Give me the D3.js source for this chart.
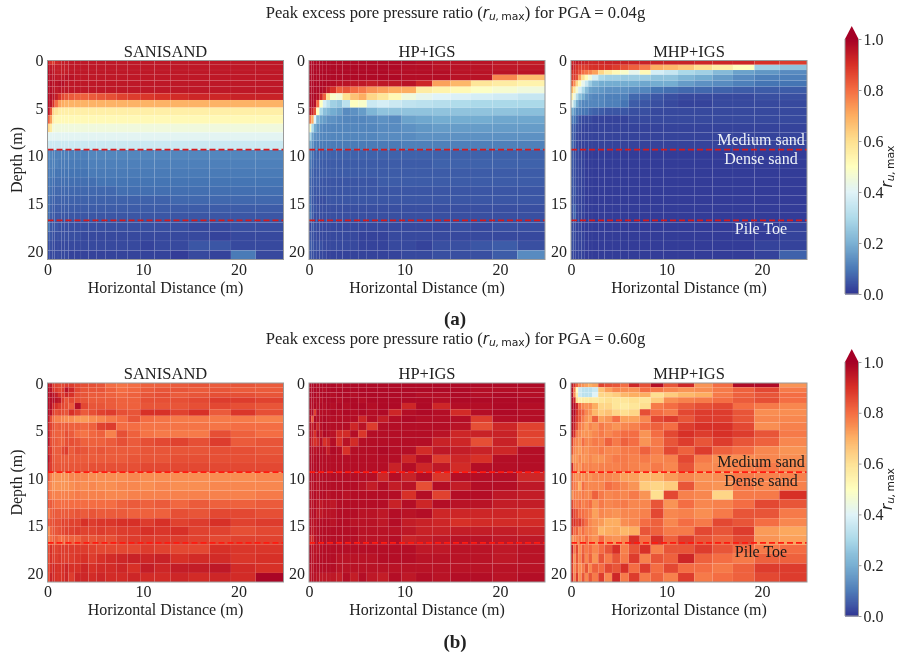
<!DOCTYPE html>
<html>
<head>
<meta charset="utf-8">
<script src="https://d3js.org/d3.v7.min.js"></script>
<style>
body { margin: 0; background: #fff; }
svg { filter: blur(.45px); }
text { font-family: "Liberation Serif", serif; fill: #222; }
</style>
</head>
<body>
<script>
// cell edges of the mesh, metres
var xEdges = [0,.25,.5,.75,1.1,1.45,1.8,2.2,2.85,3.5,4.3,5.15,6.05,7.2,8.35,9.7,11.2,12.9,14.8,16.95,19.2,21.8,24.7];
var depthEdges = [0,.45,1,1.5,2.1,2.75,3.45,4.15,4.95,5.75,6.65,7.55,8.4,9.4,10.35,11.3,12.25,13.2,14.2,15.1,16,17,17.95,18.95,19.95,20.9];

var modelNames = ['SANISAND','HP+IGS','MHP+IGS'];
var xTicks = [0,10,20];
var depthTicks = [0,5,10,15,20];
var barTicks = [0,.2,.4,.6,.8,1];
var layerDepths = [9.35,16.8];

// r_u,max x 100, one row per depth
var sanisand004 = [
[94,90,88,92,93,94,94,95,95,95,95,95,95,95,95,95,95,95,95,95,95,95],
[96,95,94,94,94,94,94,95,95,95,95,95,95,95,95,95,95,95,95,95,95,95],
[97,96,95,94,94,94,94,95,95,95,95,95,95,95,95,95,95,95,95,95,95,95],
[97,96,96,95,95,95,96,96,95,95,95,95,95,95,95,95,95,95,95,95,95,95],
[97,97,96,96,97,97,95,95,95,95,95,95,95,95,95,95,95,95,95,95,95,95],
[97,97,96,95,96,95,95,95,95,95,95,95,95,95,95,95,95,95,95,95,95,95],
[97,97,96,94,90,86,84,83,82,82,83,84,85,87,88,89,90,91,92,92,93,93],
[97,96,90,80,72,70,69,69,69,69,69,69,69,69,69,69,69,69,69,69,69,69],
[96,84,62,58,55,55,55,55,55,55,55,55,55,55,55,55,55,55,55,55,55,55],
[82,72,55,52,52,52,52,52,52,52,52,52,52,52,52,52,52,52,52,52,52,52],
[62,56,46,45,45,45,45,45,45,45,45,45,45,45,45,45,45,45,45,45,45,45],
[41,41,41,41,41,41,41,41,41,41,41,41,41,41,41,41,41,41,41,41,41,41],
[36,36,36,36,36,36,36,36,36,36,36,36,36,36,36,36,36,36,36,36,36,36],
[13,13,12,12,12,12,12,12,12,12,13,13,13,13,13,13,13,13,13,13,13,13],
[12,12,12,12,11,11,11,11,11,11,12,12,12,12,12,12,12,12,12,12,12,12],
[11,11,11,10,10,10,10,10,10,10,11,11,11,11,11,11,11,11,11,11,11,11],
[10,10,9,9,9,9,9,9,9,9,9,10,10,10,10,10,10,10,10,10,10,10],
[9,9,8,8,8,8,8,8,8,8,8,8,8,9,9,9,9,9,9,9,9,9],
[9,8,7,7,7,7,7,7,7,7,7,7,7,7,7,7,7,8,8,8,8,8],
[9,7,6,6,6,6,6,6,6,6,6,6,6,6,6,6,6,6,6,6,6,6],
[9,6,6,5,5,5,5,5,5,5,5,5,5,5,5,5,5,5,5,5,5,5],
[10,5,5,5,4,4,4,4,4,4,4,4,4,4,4,4,4,4,3,3,4,4],
[6,5,4,4,4,4,4,4,4,3,3,3,3,3,3,3,3,3,3,2,3,3],
[4,4,3,3,3,3,3,3,3,3,3,3,3,3,3,2,3,3,5,5,3,3],
[4,3,3,3,3,3,3,2,2,2,2,2,2,2,2,2,2,1,3,2,11,3]
];
var hpigs004 = [
[98,98,98,98,98,98,98,98,98,98,98,98,98,98,98,98,97,96,96,96,95,94],
[98,98,98,98,98,98,98,98,98,98,98,98,98,98,98,97,97,96,96,96,95,95],
[98,98,98,98,98,98,98,98,98,98,98,98,98,98,97,97,97,97,96,96,96,96],
[98,98,98,98,98,98,98,98,98,98,98,98,98,98,98,97,97,97,96,96,76,67],
[98,98,98,98,98,98,98,97,96,96,95,95,94,95,95,96,92,72,68,58,56,54],
[98,98,98,98,98,97,94,90,82,84,80,78,74,72,70,70,56,54,52,49,47,45],
[98,98,98,97,92,82,60,48,46,60,66,70,62,58,52,45,42,40,39,38,37,35],
[98,98,97,80,50,38,33,28,26,33,50,48,36,38,36,34,33,32,31,30,30,30],
[96,93,85,50,30,24,22,20,18,14,15,17,22,25,25,25,25,25,25,25,25,24],
[78,70,40,22,18,17,15,15,14,13,13,13,14,15,14,18,19,20,20,20,19,19],
[48,30,20,16,14,13,13,13,13,13,13,13,13,14,14,15,16,17,17,17,17,17],
[30,18,15,14,13,13,13,13,13,13,13,13,13,14,14,14,15,15,15,15,15,15],
[20,15,12,11,11,11,11,11,11,11,11,11,11,11,11,12,12,12,12,12,12,12],
[13,9,8,7,7,7,7,7,7,7,7,7,7,7,7,7,7,7,7,7,7,7],
[11,8,7,7,6,6,6,6,6,6,6,6,6,6,6,6,6,7,7,7,7,7],
[9,7,6,6,6,6,6,6,6,6,6,6,6,6,6,6,6,6,6,6,6,6],
[8,6,6,6,5,5,5,5,5,5,5,5,5,6,6,6,6,6,6,6,6,6],
[8,6,5,5,5,5,5,5,5,5,5,5,5,5,5,5,5,5,5,5,5,5],
[9,5,5,4,4,4,5,5,5,5,5,5,5,5,5,5,5,5,5,5,5,5],
[10,5,5,4,4,4,4,4,4,4,4,4,4,4,4,4,4,4,4,4,4,4],
[11,6,4,4,4,4,4,4,4,4,4,4,4,4,4,4,4,4,4,4,4,4],
[2,5,4,3,3,3,3,3,3,3,3,3,3,3,3,3,3,3,4,3,4,4],
[5,4,4,3,3,3,3,3,3,3,3,2,2,2,3,3,3,3,3,3,3,3],
[6,5,4,4,4,3,3,3,3,3,3,2,2,2,3,3,2,4,4,5,6,4],
[5,4,4,3,3,3,2,2,2,2,2,2,2,2,2,3,3,4,4,4,6,14]
];
var mhpigs004 = [
[92,94,95,94,93,93,92,92,92,93,93,93,93,93,93,93,93,92,92,92,90,88],
[95,92,90,88,88,88,90,90,90,90,88,85,82,78,70,68,65,60,55,50,28,25],
[90,90,88,85,80,78,76,72,62,56,52,48,42,52,38,35,30,28,23,18,16,14],
[88,88,85,72,60,52,45,38,30,28,28,27,27,27,25,25,22,20,17,14,12,12],
[82,75,62,52,42,35,27,22,20,20,20,20,20,19,20,20,17,15,14,12,10,10],
[68,58,46,38,30,23,18,17,16,15,15,15,14,13,10,9,8,8,7,6,6,6],
[55,44,32,24,20,16,14,13,13,12,12,12,8,7,5,4,3,3,3,3,4,4],
[42,30,20,15,13,13,13,13,13,12,12,10,6,5,4,3,2,2,3,3,3,3],
[20,16,12,11,10,10,8,7,6,5,5,5,4,4,3,3,3,3,3,3,3,3],
[12,10,7,4,3,3,3,2,2,2,2,2,3,3,3,3,3,3,3,3,3,3],
[7,6,4,3,2,2,2,2,2,2,2,2,2,2,2,2,2,2,2,2,2,2],
[7,5,3,2,2,2,2,2,2,2,2,2,2,2,2,2,2,2,2,2,2,2],
[9,5,3,2,2,2,2,2,2,2,2,2,2,2,2,2,2,2,2,2,2,2],
[6,4,3,2,2,1,1,1,1,1,1,1,1,1,1,1,1,1,1,1,1,1],
[6,4,3,2,2,1,1,1,1,1,1,1,1,1,1,1,1,1,1,1,1,1],
[5,4,3,2,2,1,1,1,1,1,1,1,1,1,1,1,1,1,1,1,1,1],
[6,4,3,2,2,1,1,1,1,1,1,1,1,1,1,1,1,1,1,1,1,1],
[5,5,3,2,2,1,1,1,1,1,1,1,1,1,1,1,1,1,1,1,1,1],
[5,4,3,2,2,1,1,1,1,1,1,1,1,1,1,1,1,1,1,1,1,1],
[5,7,3,2,2,1,1,1,1,1,1,1,1,1,1,1,1,1,1,1,1,1],
[4,8,3,2,2,1,1,1,1,1,1,1,1,1,1,1,1,1,1,1,1,1],
[3,3,2,2,1,1,1,1,1,1,1,1,1,1,1,1,1,1,1,1,1,2],
[4,3,2,2,2,1,1,1,1,1,1,1,1,1,1,1,1,1,1,1,1,2],
[4,3,2,2,2,1,1,1,1,1,1,1,1,1,1,1,1,1,1,1,2,2],
[3,2,2,2,2,1,1,1,1,1,1,1,1,1,1,1,1,1,1,1,2,7]
];
var sanisand060 = [
[95,95,88,87,86,86,88,88,86,85,85,84,80,79,80,82,82,83,84,83,84,83],
[97,96,90,88,86,88,96,92,86,84,84,84,82,80,81,83,84,84,83,84,83,83],
[97,97,96,94,90,88,92,90,85,84,83,83,82,81,82,84,85,83,84,85,85,84],
[97,97,97,96,95,88,84,86,85,84,83,83,83,82,82,85,85,85,86,88,88,87],
[97,97,92,90,88,86,85,83,97,86,84,84,83,82,82,84,84,84,85,86,85,84],
[97,96,88,85,86,85,84,90,87,83,85,87,88,85,84,90,90,87,90,83,89,85],
[95,85,80,77,77,76,75,75,73,73,75,76,78,80,84,80,79,78,78,78,78,77],
[93,87,85,82,83,82,83,82,82,81,82,87,88,80,80,79,79,79,79,79,80,80],
[95,85,83,82,82,82,85,83,80,79,81,82,77,85,82,79,78,78,78,85,82,80],
[96,85,84,83,82,82,85,85,84,82,82,82,83,85,83,85,86,87,85,88,83,84],
[92,88,83,83,83,86,88,83,85,84,83,84,83,83,83,84,84,84,84,85,85,84],
[96,88,84,83,83,83,83,83,83,83,83,83,83,83,84,84,84,85,85,85,85,85],
[94,88,85,84,84,84,84,84,84,84,85,85,85,85,85,86,86,86,86,86,86,86],
[85,77,75,74,74,74,74,76,76,76,75,75,75,75,76,75,75,75,75,75,75,76],
[80,76,74,74,74,74,74,75,76,75,76,75,75,76,76,75,76,75,75,76,76,76],
[82,78,77,77,77,77,77,77,78,77,77,77,76,76,77,77,77,77,77,77,77,78],
[84,83,82,80,80,80,80,80,80,80,80,80,80,82,83,82,83,81,83,82,82,83],
[78,82,84,83,83,83,83,83,84,83,84,83,83,83,82,82,82,85,84,86,86,85],
[84,84,85,85,85,87,86,87,87,90,88,89,89,90,90,88,90,87,88,90,87,88],
[75,82,84,84,85,86,87,87,88,87,87,88,87,88,88,90,89,90,87,87,85,86],
[77,80,82,82,80,80,82,82,82,85,84,85,85,87,88,88,88,88,87,86,87,87],
[85,90,87,87,88,88,88,88,88,88,87,86,86,86,86,88,87,86,86,90,89,89],
[85,90,88,88,89,88,88,88,89,90,88,90,91,92,93,92,93,90,91,91,89,90],
[86,90,92,90,90,90,92,90,90,92,90,91,91,92,90,94,92,94,94,95,91,90],
[85,93,91,90,90,90,92,88,92,92,91,92,91,91,92,91,91,92,91,92,91,99]
];
var hpigs060 = [
[98,98,98,97,98,98,98,98,97,98,98,98,98,98,98,98,98,98,98,98,98,98],
[98,98,98,98,98,97,98,98,98,98,98,98,98,98,98,98,98,98,98,97,97,97],
[98,98,98,97,98,98,98,97,98,98,97,98,98,98,98,98,97,97,98,97,98,97],
[98,98,97,98,97,98,98,98,97,98,98,97,98,98,98,98,98,97,98,98,98,98],
[98,97,98,97,98,97,98,97,98,97,98,98,97,98,98,92,98,92,97,97,98,97],
[98,98,87,98,97,97,97,98,97,98,97,98,97,98,92,97,98,97,91,97,98,97],
[97,84,98,97,97,98,97,97,97,97,97,92,97,94,97,98,97,97,97,88,97,97],
[97,94,97,93,97,98,97,97,97,97,92,96,88,97,97,97,97,97,96,85,92,87],
[96,95,90,97,95,98,97,96,91,91,97,89,97,97,97,97,97,96,92,93,93,87],
[96,93,90,92,97,90,92,97,90,96,91,97,97,97,97,97,97,93,92,85,93,86],
[98,97,96,97,97,97,94,98,97,90,97,97,97,98,97,97,91,95,94,93,92,97],
[98,97,97,98,97,97,97,97,97,97,97,97,97,97,97,92,97,88,92,90,97,97],
[98,98,97,98,97,97,97,97,97,97,97,97,97,97,93,97,92,95,91,97,97,97],
[98,97,97,96,97,97,97,97,97,97,97,97,97,92,97,93,97,89,97,97,97,92],
[97,96,97,96,97,97,97,97,97,97,97,96,94,97,94,96,85,97,94,97,97,95],
[96,97,97,96,97,97,96,97,97,96,97,97,97,97,97,90,97,87,97,97,95,94],
[97,96,97,96,95,96,96,95,97,97,97,97,97,97,93,97,92,97,96,96,94,94],
[96,97,97,95,95,96,96,96,97,97,97,96,96,95,97,96,97,92,92,92,92,91],
[97,96,96,97,97,97,97,96,97,97,96,96,96,95,97,94,93,92,90,91,91,91],
[97,95,96,97,97,97,97,97,97,97,97,96,96,96,96,95,93,93,94,94,94,93],
[93,92,96,97,97,97,97,97,97,97,97,96,96,96,97,93,94,95,96,96,95,95],
[98,96,96,96,97,97,97,97,97,97,97,97,97,97,97,97,95,95,96,96,95,96],
[98,96,96,97,97,97,97,97,96,96,96,96,96,97,97,97,96,96,96,96,95,96],
[97,96,97,97,97,97,97,97,96,96,96,96,96,96,96,96,96,96,96,96,96,96],
[96,97,96,96,95,95,95,95,94,97,94,97,95,94,97,95,97,96,97,97,96,97]
];
var mhpigs060 = [
[95,90,82,76,74,72,70,72,87,85,84,80,92,85,97,84,92,74,80,98,98,74],
[97,78,50,36,33,33,33,36,66,72,76,75,74,80,78,76,74,75,78,82,86,78],
[98,75,55,36,33,33,33,40,62,62,64,68,70,70,60,64,68,70,78,82,84,80],
[98,92,60,55,56,56,57,56,58,60,58,58,60,58,64,75,77,78,80,83,85,80],
[99,97,92,80,76,74,75,70,62,62,58,56,58,60,78,80,83,85,86,80,78,76],
[99,98,90,84,82,76,74,68,64,66,62,60,62,85,80,78,86,88,88,84,75,75],
[98,95,88,84,78,74,72,82,72,74,80,72,72,76,86,88,84,88,88,84,76,76],
[97,93,85,78,76,72,76,74,78,76,74,76,77,80,82,80,88,90,90,86,75,77],
[96,90,78,76,74,74,74,76,78,76,78,80,80,74,80,86,90,88,90,88,84,78],
[88,78,76,74,80,76,76,78,77,82,78,82,80,74,78,84,88,84,88,84,82,76],
[84,76,74,73,76,74,76,76,78,76,76,78,78,82,78,86,82,88,82,80,76,74],
[76,74,73,76,74,74,76,74,74,76,78,78,77,78,76,77,86,78,75,75,76,75],
[92,76,76,74,78,76,77,76,77,77,77,78,77,76,78,76,84,76,76,77,78,76],
[82,76,74,76,74,76,74,76,76,76,75,72,72,68,69,73,76,74,75,78,77,77],
[80,78,76,70,80,76,76,76,76,80,78,76,74,64,62,64,84,75,74,78,76,77],
[74,78,76,76,78,76,76,82,78,76,77,76,78,74,60,86,77,76,62,78,78,90],
[86,80,78,80,77,78,80,74,78,76,77,78,76,76,84,74,80,76,77,80,86,84],
[92,86,84,80,80,78,77,72,76,75,74,76,76,77,86,76,77,75,78,84,84,78],
[90,90,86,88,84,80,76,74,73,70,70,75,76,80,82,76,80,78,86,84,80,76],
[88,80,82,76,80,76,76,74,68,70,71,68,70,84,82,78,78,86,84,88,73,71],
[74,76,76,78,76,80,76,74,80,75,74,76,90,80,90,82,88,84,82,86,74,72],
[94,78,86,75,82,78,80,76,80,84,90,77,84,90,77,84,84,88,84,80,78,80],
[90,74,84,76,84,76,82,74,84,78,84,78,88,77,84,82,92,82,80,78,82,82],
[88,75,82,75,78,84,76,82,80,86,84,90,80,88,80,86,80,80,78,82,88,88],
[92,76,88,75,84,76,84,78,88,76,92,78,88,78,82,77,88,78,80,82,86,88]
];

var svg = d3.select('body').append('svg')
    .attr('width',899)
    .attr('height',657);

// same thing as matplotlib's RdYlBu_r, linear between the 11 brewer stops
var colorScale = d3.scaleLinear()
    .domain(d3.range(11).map(function(i){ return i/10; }))
    .range(d3.schemeRdYlBu[11].slice().reverse());

var panelLefts = [47.5,309,571];
var panelWidth = 236;
var frameColor = '#9a9a9a';
var subDrop = .16;

function ruMaxLabel(sel,size){
    sel.append('tspan').attr('font-family','DejaVu Sans').attr('font-style','italic').attr('font-size',size).text('r');
    sel.append('tspan').attr('font-family','DejaVu Sans').attr('font-style','italic').attr('font-size',size*.72).attr('dy',size*subDrop).text('u,');
    sel.append('tspan').attr('font-family','DejaVu Sans').attr('font-size',size*.72).attr('dx',2).text('max');
}

function drawPanel(values,i,top,bottom,layerColor,noteColor){
    var left = panelLefts[i];
    var x = d3.scaleLinear().domain([0,24.7]).range([left,left+panelWidth]);
    var y = d3.scaleLinear().domain([0,20.9]).range([top,bottom]);
    var g = svg.append('g');

    values.forEach(function(row,r){
        g.selectAll(null)
            .data(row)
            .enter().append('rect')
            .attr('x',function(d,c){ return x(xEdges[c]); })
            .attr('y',y(depthEdges[r]))
            .attr('width',function(d,c){ return x(xEdges[c+1])-x(xEdges[c]); })
            .attr('height',y(depthEdges[r+1])-y(depthEdges[r]))
            .attr('fill',function(d){ return colorScale(d/100); })
            .attr('stroke','#fff')
            .attr('stroke-opacity',.05)
            .attr('stroke-width',.6);
    });

    layerDepths.forEach(function(d){
        g.append('line')
            .attr('x1',left).attr('x2',left+panelWidth)
            .attr('y1',y(d)).attr('y2',y(d))
            .attr('stroke',layerColor)
            .attr('stroke-width',1.7)
            .attr('stroke-dasharray','6,3');
    });

    g.append('rect')
        .attr('x',left).attr('y',top)
        .attr('width',panelWidth).attr('height',bottom-top)
        .attr('fill','none')
        .attr('stroke',frameColor)
        .attr('stroke-width',1);

    var xAxis = d3.axisBottom(x).tickValues(xTicks).tickSize(0).tickPadding(4).tickFormat(d3.format('d'));
    var yAxis = d3.axisLeft(y).tickValues(depthTicks).tickSize(0).tickPadding(4).tickFormat(d3.format('d'));
    var gx = g.append('g').attr('transform','translate(0,'+bottom+')').call(xAxis);
    var gy = g.append('g').attr('transform','translate('+left+',0)').call(yAxis);
    gx.select('.domain').remove();
    gy.select('.domain').remove();
    gx.selectAll('text').attr('font-size',16).attr('font-family','Liberation Serif');
    gy.selectAll('text').attr('font-size',16).attr('font-family','Liberation Serif');

    g.append('text')
        .attr('x',left+panelWidth/2).attr('y',top-4)
        .attr('text-anchor','middle').attr('font-size',16.5)
        .text(modelNames[i]);
    g.append('text')
        .attr('x',left+panelWidth/2).attr('y',bottom+33)
        .attr('text-anchor','middle').attr('font-size',16)
        .text('Horizontal Distance (m)');

    if(i==0){
        g.append('text')
            .attr('transform','translate(22,'+(top+bottom)/2+') rotate(-90)')
            .attr('text-anchor','middle').attr('font-size',16)
            .text('Depth (m)');
    }
    if(i==2){
        // these two labels sit around the layer line, pile toe under its line
        var noteX = left+panelWidth*.805;
        [['Medium sand',y(layerDepths[0])-5],['Dense sand',y(layerDepths[0])+14],['Pile Toe',y(layerDepths[1])+14]].forEach(function(n){
            g.append('text')
                .attr('x',noteX).attr('y',n[1])
                .attr('text-anchor','middle').attr('font-size',16)
                .style('fill',noteColor)
                .text(n[0]);
        });
    }
}

function drawColorbar(top,bottom){
    var barX = 845, barW = 13.5;
    var y = d3.scaleLinear().domain([0,1]).range([bottom,top]);
    var steps = d3.range(0,256).map(function(i){ return i/256; });
    svg.append('g').selectAll('rect')
        .data(steps)
        .enter().append('rect')
        .attr('x',barX)
        .attr('y',function(d){ return y(d+1/256); })
        .attr('width',barW)
        .attr('height',function(d){ return y(d)-y(d+1/256)+.5; })
        .attr('fill',function(d){ return colorScale(d); });
    // the "extend" arrow on top
    svg.append('path')
        .attr('d','M'+barX+','+top+' L'+(barX+barW/2)+','+(top-13)+' L'+(barX+barW)+','+top+' Z')
        .attr('fill','#a50026');
    svg.append('path')
        .attr('d','M'+barX+','+top+' V'+bottom+' H'+(barX+barW)+' V'+top)
        .attr('fill','none').attr('stroke',frameColor).attr('stroke-width',1);

    var axis = d3.axisRight(y).tickValues(barTicks).tickSize(3).tickPadding(2).tickFormat(d3.format('.1f'));
    var ga = svg.append('g').attr('transform','translate('+(barX+barW)+',0)').call(axis);
    ga.select('.domain').remove();
    ga.selectAll('line').attr('stroke',frameColor);
    ga.selectAll('text').attr('font-size',16).attr('font-family','Liberation Serif');

    var lab = svg.append('text')
        .attr('transform','translate(891.5,'+(top+bottom)/2+') rotate(-90)')
        .attr('text-anchor','middle');
    ruMaxLabel(lab,15);
}

function drawTitle(y,pga){
    var t = svg.append('text')
        .attr('x',455.5).attr('y',y)
        .attr('text-anchor','middle').attr('font-size',16.6);
    t.append('tspan').text('Peak excess pore pressure ratio (');
    ruMaxLabel(t,15);
    t.append('tspan').attr('dy',-15*subDrop).text(') for PGA = '+pga);
}

drawTitle(18,'0.04g');
drawTitle(344,'0.60g');

[sanisand004,hpigs004,mhpigs004].forEach(function(v,i){
    drawPanel(v,i,60.5,259.5,'#d7191c','#eef2f7');
});
[sanisand060,hpigs060,mhpigs060].forEach(function(v,i){
    drawPanel(v,i,383,582,'#ff1a10','#1a1a1a');
});

drawColorbar(39,294);
drawColorbar(362,616);

svg.append('text').attr('x',455).attr('y',325).attr('text-anchor','middle')
    .attr('font-size',19).attr('font-weight','bold').text('(a)');
svg.append('text').attr('x',455).attr('y',648).attr('text-anchor','middle')
    .attr('font-size',19).attr('font-weight','bold').text('(b)');
</script>
</body>
</html>
